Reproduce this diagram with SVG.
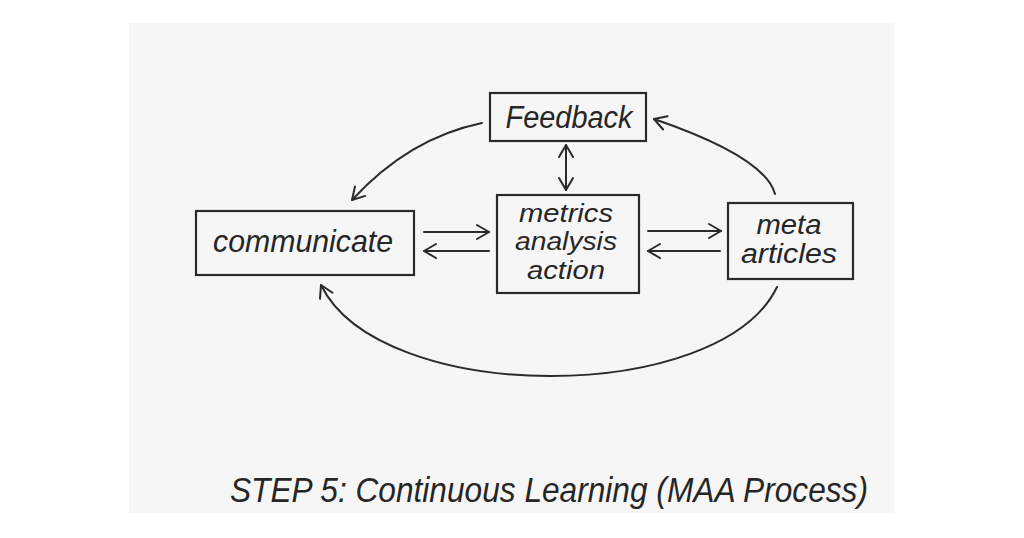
<svg xmlns="http://www.w3.org/2000/svg" width="1024" height="538" viewBox="0 0 1024 538">
<style>
.box{fill:none;stroke:#2a2a2a;stroke-width:2.2}
.lbl{font-family:"Liberation Sans",Arial,sans-serif;font-style:italic;fill:#262626;text-anchor:middle}
.ln{fill:none;stroke:#2a2a2a;stroke-width:2;stroke-linecap:round}
</style>
<defs>
<marker id="arr" viewBox="-14 -9 16 18" markerWidth="16" markerHeight="18" refX="0" refY="0" orient="auto-start-reverse" markerUnits="userSpaceOnUse">
<path d="M-12,-7 L0,0 L-12,7" fill="none" stroke="#2a2a2a" stroke-width="2" stroke-linecap="round" stroke-linejoin="round"/>
</marker>
</defs>
<rect width="1024" height="538" fill="#ffffff"/>
<rect x="129" y="23" width="765" height="490" fill="#f6f6f6"/>
<g id="connectors">
<path class="ln" d="M482,123 Q409,138 352,200" marker-end="url(#arr)"/>
<path class="ln" d="M775,194 Q765,157 654,119" marker-end="url(#arr)"/>
<path class="ln" d="M777,287 C720,406 380,406 321,285" marker-end="url(#arr)"/>
<path class="ln" d="M566,145 L566,190" marker-start="url(#arr)" marker-end="url(#arr)"/>
<path class="ln" d="M424,232 L489,232" marker-end="url(#arr)"/>
<path class="ln" d="M489,251 L424,251" marker-end="url(#arr)"/>
<path class="ln" d="M648,231 L721,231" marker-end="url(#arr)"/>
<path class="ln" d="M720,251 L648,251" marker-end="url(#arr)"/>
</g>
<g id="feedback">
<rect class="box" x="490" y="93" width="156" height="48"/>
<text class="lbl" x="569" y="128" font-size="31" textLength="127" lengthAdjust="spacingAndGlyphs">Feedback</text>
</g>
<g id="communicate">
<rect class="box" x="196" y="211" width="218" height="64"/>
<text class="lbl" x="303" y="252" font-size="32" textLength="180" lengthAdjust="spacingAndGlyphs">communicate</text>
</g>
<g id="maa">
<rect class="box" x="497" y="195" width="142" height="98"/>
<text class="lbl" x="566" y="222" font-size="26" textLength="94" lengthAdjust="spacingAndGlyphs">metrics</text>
<text class="lbl" x="566" y="250" font-size="26" textLength="102" lengthAdjust="spacingAndGlyphs">analysis</text>
<text class="lbl" x="566" y="279" font-size="26" textLength="78" lengthAdjust="spacingAndGlyphs">action</text>
</g>
<g id="meta">
<rect class="box" x="728" y="203" width="125" height="76"/>
<text class="lbl" x="789" y="234" font-size="27" textLength="65" lengthAdjust="spacingAndGlyphs">meta</text>
<text class="lbl" x="789" y="263" font-size="27" textLength="96" lengthAdjust="spacingAndGlyphs">articles</text>
</g>
<g id="title">
<text class="lbl" x="549" y="502" font-size="35" textLength="638" lengthAdjust="spacingAndGlyphs">STEP 5: Continuous Learning (MAA Process)</text>
</g>
</svg>
